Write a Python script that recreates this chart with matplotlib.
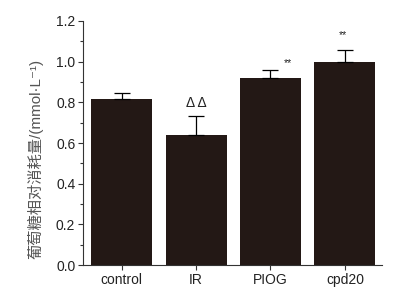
import matplotlib
matplotlib.use("Agg")
import matplotlib.pyplot as plt
from matplotlib.ticker import MultipleLocator, FormatStrFormatter

categories = ["control", "IR", "PIOG", "cpd20"]
values = [0.818, 0.639, 0.918, 1.000]
errors = [0.029, 0.094, 0.042, 0.056]
marks = ["", "ΔΔ", "**", "**"]

plt.rcParams['font.family'] = ['Liberation Sans', 'Noto Sans CJK SC', 'DejaVu Sans']

fig = plt.figure(figsize=(3.98, 3.03), dpi=100)
ax = fig.add_axes([0.2085, 0.1254, 0.7515, 0.8053])

x = list(range(len(categories)))
ax.bar(x, values, width=0.82, color="#231815", zorder=2)
ax.errorbar(x, values, yerr=[[0] * len(errors), errors], fmt="none",
            ecolor="black", elinewidth=0.9, capsize=6, capthick=0.9, zorder=3)

# significance marks
ax.text(1, values[1] + errors[1] + 0.03, "Δ Δ", ha="center", va="bottom",
        fontsize=10, color="#222222")
ax.text(2.18, values[2] + errors[2] + 0.01, marks[2], ha="left", va="bottom",
        fontsize=7.5, color="#222222")
ax.text(2.97, values[3] + errors[3] + 0.05, marks[3], ha="center", va="bottom",
        fontsize=7.5, color="#222222")

ax.set_xlim(-0.52, 3.5)
ax.set_ylim(0, 1.2)
ax.set_xticks(x)
ax.set_xticklabels(categories)
ax.yaxis.set_major_locator(MultipleLocator(0.2))
ax.yaxis.set_minor_locator(MultipleLocator(0.1))
ax.yaxis.set_major_formatter(FormatStrFormatter("%.1f"))

for s in ["top", "right"]:
    ax.spines[s].set_visible(False)
for s in ["left", "bottom"]:
    ax.spines[s].set_color("#333333")
    ax.spines[s].set_linewidth(0.8)

ax.tick_params(axis="both", which="major", direction="out", length=3.5,
               width=0.8, color="#333333", labelsize=10, labelcolor="#222222", pad=2)
ax.tick_params(axis="y", which="minor", direction="out", length=2.2,
               width=0.8, color="#333333")

fig.text(35 / 398, 1 - 159 / 303, "葡萄糖相对消耗量/(mmol·L⁻¹)", rotation=90,
         ha="center", va="center", fontsize=11, color="#555555",
         family=['Liberation Sans', 'Noto Sans CJK SC', 'DejaVu Sans'])

fig.savefig("out.png", dpi=100, facecolor="white")
